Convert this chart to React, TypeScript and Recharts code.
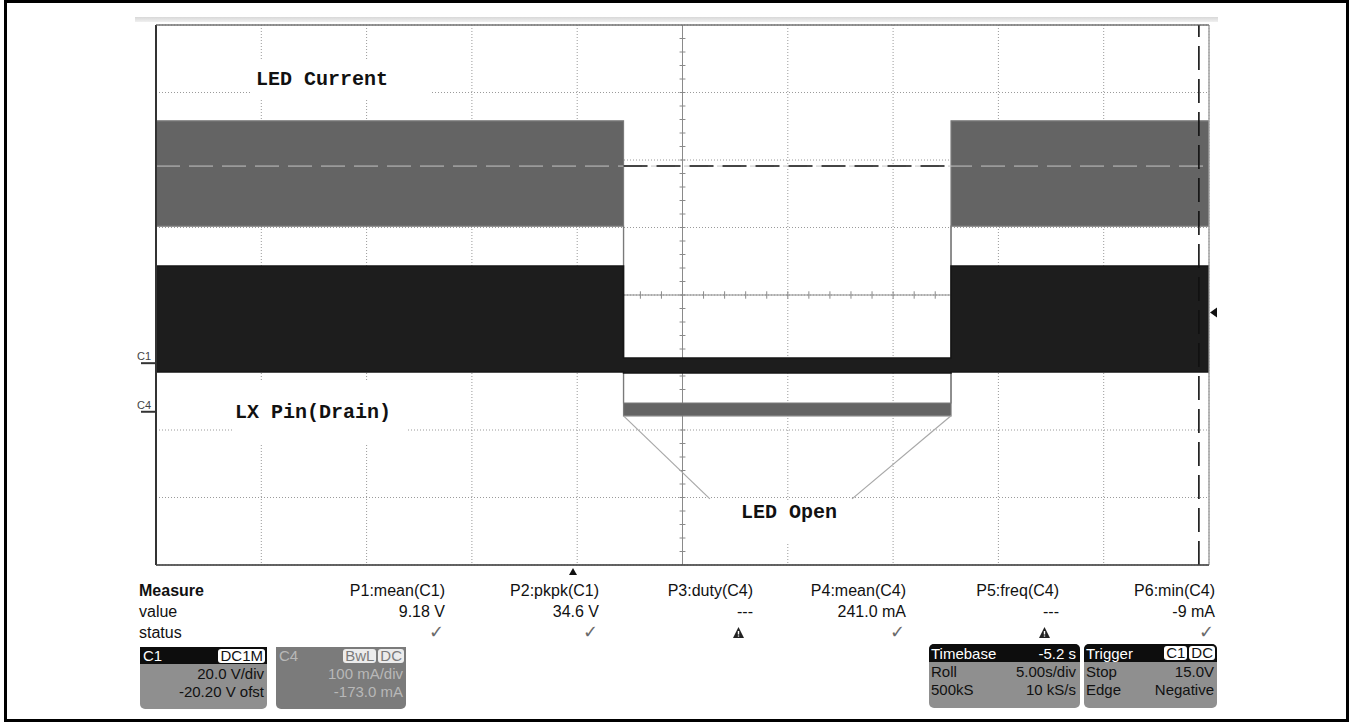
import React from "react";
import {
  ComposedChart,
  Area,
  XAxis,
  YAxis,
  CartesianGrid,
  ReferenceLine,
} from "recharts";

// scope settings
const timePerDiv = 5; // s/div
const c1VoltsPerDiv = 20;
const c1Offset = -20.2; // V
const c4MilliampsPerDiv = 100;
const c4Offset = -173; // mA

// trace envelopes (time in s, C1 in V, C4 in mA)
const timeS = [0, 22.2, 22.2, 37.75, 37.75, 50];
const c4LowmA = [275, 275, -6, -6, 275, 275];
const c4HighmA = [431, 431, 13, 13, 431, 431];
const c1LowV = [-2.6, -2.6, -2.9, -2.9, -2.6, -2.6];
const c1HighV = [28.8, 28.8, 1.5, 1.5, 28.8, 28.8];

const triggerLevelV = 15;
const triggerTimeS = 19.8;
const cursorTimeS = 49.52;
const cursorLevelmA = 364;
const calloutFromS = [22.2, 37.75];
const calloutToS = [26.3, 33.05];
const calloutFrommA = -6;
const calloutTomA = -129;

const measureNames = [
  "P1:mean(C1)",
  "P2:pkpk(C1)",
  "P3:duty(C4)",
  "P4:mean(C4)",
  "P5:freq(C4)",
  "P6:min(C4)",
];
const measureValues = ["9.18 V", "34.6 V", "---", "241.0 mA", "---", "-9 mA"];
const measureStatus = ["ok", "ok", "warn", "ok", "warn", "ok"];

const traces = timeS.map((t, i) => ({
  t,
  c4: [c4LowmA[i], c4HighmA[i]],
  c1: [c1LowV[i], c1HighV[i]],
}));

const c1Center = -c1Offset;
const c4Center = -c4Offset;
const c1Domain = [c1Center - 4 * c1VoltsPerDiv, c1Center + 4 * c1VoltsPerDiv];
const c4Domain = [c4Center - 4 * c4MilliampsPerDiv, c4Center + 4 * c4MilliampsPerDiv];
const xTicks = Array.from({ length: 11 }, (_, i) => i * timePerDiv);
const c1Ticks = Array.from({ length: 9 }, (_, i) => c1Domain[0] + i * c1VoltsPerDiv);
const xCenter = 5 * timePerDiv;

// minor ticks on the centre cross, skipped where a trace covers them
const gapStart = timeS[1];
const gapEnd = timeS[3];
const toC1 = (mA: number) => c1Center + ((mA - c4Center) / c4MilliampsPerDiv) * c1VoltsPerDiv;
const covered = (v: number) =>
  (v >= c1LowV[2] - 0.6 && v <= c1HighV[2] + 0.6) ||
  (v >= toC1(c4LowmA[2]) - 1 && v <= toC1(c4HighmA[2]) + 1);
const xMinor = Array.from({ length: 49 }, (_, i) => (i + 1) * (timePerDiv / 5)).filter(
  (t) => t > gapStart + 0.2 && t < gapEnd - 0.2
);
const yMinor = Array.from({ length: 39 }, (_, i) => c1Domain[0] + (i + 1) * (c1VoltsPerDiv / 5)).filter(
  (v) => !covered(v)
);

const W = 1352;
const H = 725;
const colRight = [445, 599, 753, 906, 1059, 1215];

const sans = "'Liberation Sans', Arial, sans-serif";
const mono = "'Liberation Mono', 'DejaVu Sans Mono', monospace";

function GroundLabel({ viewBox, name }: any) {
  const x = viewBox.x;
  const y = viewBox.y;
  return (
    <g>
      <text x={x - 19} y={y - 3} fontSize={11} fontFamily={sans} fill="#444">
        {name}
      </text>
      <line x1={x - 15} x2={x} y1={y} y2={y} stroke="#333" strokeWidth={2} />
    </g>
  );
}

function TriggerArrow({ viewBox }: any) {
  const x = viewBox.x + viewBox.width;
  const y = viewBox.y;
  return (
    <path d={`M${x + 1},${y} L${x + 8},${y - 5} L${x + 8},${y + 5} Z`} fill="#111" />
  );
}

function TimeMarker({ viewBox }: any) {
  const x = viewBox.x;
  const yb = Math.max(viewBox.y, viewBox.y + viewBox.height);
  return <path d={`M${x},${yb + 3} L${x + 4},${yb + 10} L${x - 4},${yb + 10} Z`} fill="#111" />;
}

function Warn({ x, y }: { x: number; y: number }) {
  return (
    <svg
      width={11}
      height={11}
      style={{ position: "absolute", left: x - 5, top: y - 5 }}
    >
      <path d="M5.5,0 L11,11 L0,11 Z" fill="#222" />
      <line x1={5.5} x2={5.5} y1={4} y2={7.5} stroke="#fff" strokeWidth={1.4} />
      <line x1={5.5} x2={5.5} y1={8.5} y2={9.6} stroke="#fff" strokeWidth={1.4} />
    </svg>
  );
}

const badge = (bg: string, fg: string): React.CSSProperties => ({
  background: bg,
  color: fg,
  borderRadius: 3,
  padding: "0 2px",
  lineHeight: "14px",
  marginLeft: 2,
});

export default function App() {
  return (
    <div style={{ position: "absolute", left: 0, top: 0, width: W, height: H, background: "#fff", fontFamily: sans }}>
      <div
        style={{
          position: "absolute",
          left: 135,
          top: 17,
          width: 1083,
          height: 5,
          background: "linear-gradient(#d8d8d8, #f0f0f0)",
        }}
      />
      <div style={{ position: "absolute", left: 0, top: 0 }}>
        <ComposedChart
          width={W}
          height={H}
          data={traces}
          margin={{ top: 25, right: W - 1209, bottom: H - 565, left: 156 }}
        >
          <XAxis dataKey="t" type="number" domain={[0, 50]} ticks={xTicks} hide />
          <XAxis xAxisId="ctr" dataKey="t" type="number" domain={[0, 50]} ticks={[xCenter]} hide />
          <YAxis yAxisId="c1" type="number" domain={c1Domain} ticks={c1Ticks} allowDataOverflow hide />
          <YAxis yAxisId="ctr" type="number" domain={c1Domain} ticks={[c1Center]} allowDataOverflow hide />
          <YAxis yAxisId="c4" type="number" domain={c4Domain} allowDataOverflow hide />
          <CartesianGrid yAxisId="c1" stroke="#9a9a9a" strokeDasharray="1 2" />
          <CartesianGrid xAxisId="ctr" yAxisId="ctr" stroke="#8a8a8a" />
          <Area
            yAxisId="c4"
            dataKey="c4"
            type="linear"
            fill="#646464"
            fillOpacity={1}
            stroke="#7a7a7a"
            strokeWidth={1.2}
            isAnimationActive={false}
          />
          <Area
            yAxisId="c1"
            dataKey="c1"
            type="linear"
            fill="#1d1d1d"
            fillOpacity={1}
            stroke="#161616"
            strokeWidth={1.5}
            isAnimationActive={false}
          />
          {xMinor.map((t) => (
            <ReferenceLine
              key={"xm" + t}
              yAxisId="c1"
              segment={[
                { x: t, y: c1Center - 1.1 },
                { x: t, y: c1Center + 1.1 },
              ]}
              stroke="#8a8a8a"
            />
          ))}
          {yMinor.map((v) => (
            <ReferenceLine
              key={"ym" + v}
              yAxisId="c1"
              segment={[
                { x: xCenter - 0.14, y: v },
                { x: xCenter + 0.14, y: v },
              ]}
              stroke="#8a8a8a"
            />
          ))}
          {calloutFromS.map((t, i) => (
            <ReferenceLine
              key={"co" + i}
              yAxisId="c4"
              segment={[
                { x: t, y: calloutFrommA },
                { x: calloutToS[i], y: calloutTomA },
              ]}
              stroke="#a8a8a8"
              strokeWidth={1.2}
            />
          ))}
          <ReferenceLine yAxisId="c4" y={cursorLevelmA} stroke="#c4c4c4" strokeDasharray="24 9" />
          <ReferenceLine
            yAxisId="c4"
            segment={[
              { x: gapStart, y: cursorLevelmA },
              { x: gapEnd, y: cursorLevelmA },
            ]}
            stroke="#111"
            strokeWidth={1.5}
            strokeDasharray="24 9"
          />
          <ReferenceLine yAxisId="c1" x={cursorTimeS} stroke="#111" strokeWidth={1.6} strokeDasharray="24 9" />
          <ReferenceLine yAxisId="c1" x={0} stroke="#333" strokeWidth={2} />
          <ReferenceLine yAxisId="c1" x={50} stroke="#b0b0b0" />
          <ReferenceLine yAxisId="c1" y={c1Domain[1]} stroke="#666" />
          <ReferenceLine yAxisId="c1" y={c1Domain[0]} stroke="#444" strokeWidth={1.5} />
          <ReferenceLine yAxisId="c1" y={0} strokeOpacity={0} label={<GroundLabel name="C1" />} />
          <ReferenceLine yAxisId="c4" y={0} strokeOpacity={0} label={<GroundLabel name="C4" />} />
          <ReferenceLine yAxisId="c1" y={triggerLevelV} strokeOpacity={0} label={<TriggerArrow />} />
          <ReferenceLine yAxisId="c1" x={triggerTimeS} strokeOpacity={0} label={<TimeMarker />} />
        </ComposedChart>
      </div>

      {/* annotations */}
      <div style={{ position: "absolute", left: 250, top: 60, width: 180, height: 40, background: "#fff" }} />
      <div style={{ position: "absolute", left: 256, top: 68, fontFamily: mono, fontWeight: 700, fontSize: 20, lineHeight: "24px", color: "#111" }}>
        LED Current
      </div>
      <div style={{ position: "absolute", left: 232, top: 381, width: 176, height: 62, background: "#fff" }} />
      <div style={{ position: "absolute", left: 235, top: 401, fontFamily: mono, fontWeight: 700, fontSize: 20, lineHeight: "24px", color: "#111" }}>
        LX Pin(Drain)
      </div>
      <div style={{ position: "absolute", left: 734, top: 502, width: 112, height: 40, background: "#fff" }} />
      <div style={{ position: "absolute", left: 741, top: 501, fontFamily: mono, fontWeight: 700, fontSize: 20, lineHeight: "24px", color: "#111" }}>
        LED Open
      </div>

      {/* measurement table */}
      {["Measure", "value", "status"].map((s, r) => (
        <div
          key={s}
          style={{ position: "absolute", left: 139, top: 582 + r * 21, fontSize: 16, lineHeight: "18px", fontWeight: r === 0 ? 700 : 400, color: "#111" }}
        >
          {s}
        </div>
      ))}
      {measureNames.map((n, i) => (
        <React.Fragment key={n}>
          <div style={{ position: "absolute", right: W - colRight[i], top: 582, fontSize: 16, lineHeight: "18px", color: "#111", whiteSpace: "nowrap" }}>
            {n}
          </div>
          <div style={{ position: "absolute", right: W - colRight[i], top: 603, fontSize: 16, lineHeight: "18px", color: "#111", whiteSpace: "nowrap" }}>
            {measureValues[i]}
          </div>
          {measureStatus[i] === "ok" ? (
            <div style={{ position: "absolute", right: W - colRight[i] + 1, top: 622, fontSize: 18, lineHeight: "20px", fontWeight: 700, color: "#6a6a6a", fontFamily: "'DejaVu Sans', sans-serif" }}>
              ✓
            </div>
          ) : (
            <Warn x={colRight[i] - 15} y={632} />
          )}
        </React.Fragment>
      ))}

      {/* channel boxes */}
      <div style={{ position: "absolute", left: 140, top: 647, width: 127, height: 62, background: "#8f8f8f", borderRadius: "0 0 5px 5px", fontSize: 15, overflow: "hidden" }}>
        <div style={{ background: "#0d0d0d", color: "#fff", height: 17, display: "flex", alignItems: "center", padding: "0 2px 0 3px" }}>
          <span style={{ flex: 1 }}>C1</span>
          <span style={badge("#fff", "#111")}>DC1M</span>
        </div>
        <div style={{ textAlign: "right", paddingRight: 3, lineHeight: "18px", color: "#111", marginTop: 1 }}>
          <div>20.0 V/div</div>
          <div>-20.20 V ofst</div>
        </div>
      </div>
      <div style={{ position: "absolute", left: 276, top: 647, width: 130, height: 62, background: "#7b7b7b", borderRadius: "0 0 5px 5px", fontSize: 15, overflow: "hidden" }}>
        <div style={{ color: "#b8b8b8", height: 17, display: "flex", alignItems: "center", padding: "0 2px 0 3px" }}>
          <span style={{ flex: 1 }}>C4</span>
          <span style={badge("#ececec", "#7b7b7b")}>BwL</span>
          <span style={badge("#ececec", "#7b7b7b")}>DC</span>
        </div>
        <div style={{ textAlign: "right", paddingRight: 3, lineHeight: "18px", color: "#b8b8b8", marginTop: 1 }}>
          <div>100 mA/div</div>
          <div>-173.0 mA</div>
        </div>
      </div>

      {/* timebase / trigger */}
      <div style={{ position: "absolute", left: 929, top: 644, width: 151, height: 64, background: "#8f8f8f", borderRadius: 5, fontSize: 15, overflow: "hidden" }}>
        <div style={{ background: "#0d0d0d", color: "#fff", height: 18, display: "flex", alignItems: "center", padding: "0 4px 0 2px" }}>
          <span style={{ flex: 1 }}>Timebase</span>
          <span>-5.2 s</span>
        </div>
        <div style={{ display: "flex", padding: "1px 4px 0 2px", lineHeight: "18px", color: "#111" }}>
          <span style={{ flex: 1 }}>Roll</span>
          <span>5.00s/div</span>
        </div>
        <div style={{ display: "flex", padding: "0 4px 0 2px", lineHeight: "18px", color: "#111" }}>
          <span style={{ flex: 1 }}>500kS</span>
          <span>10 kS/s</span>
        </div>
      </div>
      <div style={{ position: "absolute", left: 1084, top: 644, width: 133, height: 64, background: "#8f8f8f", borderRadius: 5, fontSize: 15, overflow: "hidden" }}>
        <div style={{ background: "#0d0d0d", color: "#fff", height: 18, display: "flex", alignItems: "center", padding: "0 2px 0 2px" }}>
          <span style={{ flex: 1 }}>Trigger</span>
          <span style={badge("#fff", "#111")}>C1</span>
          <span style={badge("#fff", "#111")}>DC</span>
        </div>
        <div style={{ display: "flex", padding: "1px 3px 0 2px", lineHeight: "18px", color: "#111" }}>
          <span style={{ flex: 1 }}>Stop</span>
          <span>15.0V</span>
        </div>
        <div style={{ display: "flex", padding: "0 3px 0 2px", lineHeight: "18px", color: "#111" }}>
          <span style={{ flex: 1 }}>Edge</span>
          <span>Negative</span>
        </div>
      </div>

      {/* frame */}
      <div style={{ position: "absolute", left: 4, top: 0, width: 1339, height: 716, border: "3px solid #000", pointerEvents: "none" }} />
    </div>
  );
}
